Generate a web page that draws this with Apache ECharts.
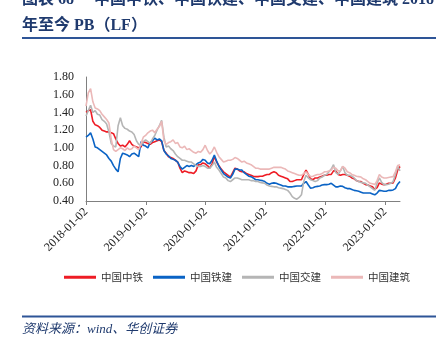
<!DOCTYPE html>
<html><head><meta charset="utf-8">
<script src="https://cdn.jsdelivr.net/npm/echarts@6/dist/echarts.min.js"></script>
<style>html,body{margin:0;padding:0;background:#fff}#c{width:444px;height:351px}</style>
</head><body><div id="c"></div>
<script>
// sampling: one point every 14 calendar days starting 2018-01-02
const startDate = '2018-01-02';
const stepDays = 14;
const tickDates = ['2018-01-02','2019-01-02','2020-01-02','2021-01-02','2022-01-02','2023-01-02'];
const yTicks = [0.40,0.60,0.80,1.00,1.20,1.40,1.60,1.80];
const seriesNames = ['中国中铁','中国铁建','中国交建','中国建筑'];

const crec = [1.40,1.42,1.43,1.30,1.26,1.25,1.23,1.20,1.19,1.18,1.18,1.17,1.16,1.10,1.05,1.02,1.03,1.01,1.04,1.08,1.04,1.02,1.01,1.00,1.01,1.07,1.06,
1.05,1.04,1.06,1.07,1.08,1.09,1.07,0.97,0.94,0.90,0.89,0.88,0.86,0.84,0.77,0.72,0.74,0.73,0.72,0.72,0.71,0.74,0.81,
0.81,0.83,0.82,0.80,0.77,0.82,0.90,0.84,0.80,0.76,0.73,0.71,0.69,0.67,0.72,0.77,0.76,0.74,0.73,0.73,0.71,0.70,0.69,0.68,0.675,0.675,0.68,0.68,0.69,0.70,0.70,0.72,0.73,0.72,0.69,0.68,0.67,0.66,0.65,0.62,0.62,0.63,0.64,0.64,0.64,
0.70,0.75,0.70,0.65,0.64,0.66,0.66,0.67,0.68,0.69,0.69,0.70,0.70,0.74,0.74,0.70,0.69,0.70,0.70,0.69,0.68,0.66,0.65,0.63,0.62,0.62,0.60,0.585,0.58,0.57,0.56,0.53,0.55,0.605,0.59,0.585,0.59,0.60,0.60,0.605,0.66,0.75,0.79];

const crcc = [1.12,1.14,1.17,1.10,1.01,1.00,0.98,0.96,0.94,0.92,0.88,0.85,0.80,0.76,0.73,0.88,0.94,0.93,0.92,0.90,0.93,0.94,0.92,0.90,1.07,1.03,1.02,
1.00,1.06,1.08,1.11,1.09,1.10,1.08,0.97,0.93,0.91,0.88,0.87,0.86,0.84,0.79,0.76,0.78,0.80,0.79,0.80,0.79,0.81,0.83,
0.84,0.87,0.86,0.83,0.82,0.86,0.92,0.85,0.79,0.75,0.71,0.69,0.67,0.66,0.70,0.76,0.76,0.75,0.75,0.72,0.70,0.68,0.675,0.66,0.64,0.64,0.635,0.63,0.62,0.60,0.59,0.60,0.605,0.60,0.59,0.58,0.57,0.57,0.56,0.56,0.56,0.565,0.57,0.57,0.57,
0.60,0.62,0.58,0.545,0.55,0.56,0.565,0.57,0.58,0.585,0.585,0.59,0.60,0.58,0.56,0.56,0.57,0.565,0.55,0.54,0.54,0.53,0.52,0.515,0.51,0.50,0.49,0.49,0.49,0.49,0.48,0.47,0.49,0.52,0.515,0.51,0.51,0.52,0.52,0.525,0.54,0.59,0.62];

const cccc = [1.36,1.42,1.48,1.40,1.42,1.38,1.37,1.32,1.30,1.27,1.18,1.05,1.02,1.01,1.25,1.34,1.25,1.22,1.21,1.19,1.18,1.15,1.08,1.04,1.03,1.07,1.09,
1.07,1.05,1.10,1.14,1.20,1.25,1.31,1.12,1.01,1.02,0.99,0.97,0.93,0.90,0.88,0.86,0.86,0.85,0.84,0.84,0.82,0.80,0.79,
0.79,0.80,0.79,0.77,0.77,0.80,0.84,0.78,0.75,0.71,0.67,0.66,0.63,0.62,0.64,0.66,0.66,0.65,0.64,0.64,0.64,0.64,0.63,0.63,0.62,0.62,0.61,0.605,0.60,0.58,0.57,0.565,0.56,0.56,0.55,0.545,0.54,0.53,0.52,0.49,0.45,0.43,0.42,0.44,0.47,
0.62,0.69,0.66,0.64,0.63,0.62,0.63,0.66,0.67,0.69,0.70,0.73,0.76,0.81,0.72,0.70,0.74,0.79,0.72,0.69,0.69,0.68,0.66,0.63,0.62,0.61,0.605,0.60,0.58,0.56,0.54,0.52,0.60,0.66,0.61,0.585,0.585,0.59,0.60,0.62,0.70,0.79,0.74];

const cscec = [1.47,1.62,1.67,1.52,1.45,1.44,1.42,1.38,1.35,1.32,1.28,1.10,0.98,0.96,0.98,1.00,0.99,0.97,1.00,0.98,0.99,1.02,1.00,0.98,1.05,1.12,1.14,
1.17,1.19,1.20,1.17,1.21,1.24,1.30,1.08,1.04,1.06,1.07,1.09,1.05,1.06,1.01,1.00,1.02,0.98,0.99,0.97,0.95,0.94,0.96,
0.95,0.98,1.03,0.97,0.93,0.96,1.01,0.95,0.90,0.87,0.84,0.85,0.86,0.86,0.87,0.89,0.88,0.86,0.84,0.85,0.83,0.82,0.81,0.79,0.77,0.77,0.76,0.76,0.76,0.76,0.76,0.77,0.78,0.78,0.78,0.78,0.77,0.76,0.74,0.73,0.72,0.71,0.70,0.69,0.69,
0.71,0.73,0.70,0.675,0.68,0.69,0.70,0.70,0.71,0.73,0.73,0.74,0.75,0.78,0.77,0.74,0.74,0.79,0.77,0.73,0.72,0.70,0.69,0.68,0.675,0.67,0.65,0.64,0.62,0.60,0.595,0.585,0.63,0.70,0.67,0.66,0.66,0.665,0.67,0.675,0.73,0.80,0.81];

const seriesValues = [crec, crcc, cccc, cscec];
const colors = ['#EE1C25','#0A63C5','#B5B5B5','#EBB8B8'];

const DAY = 86400000;
const t0 = new Date(startDate + 'T00:00:00Z').getTime();
function dayOf(d){ return Math.round((new Date(d + 'T00:00:00Z').getTime() - t0) / DAY); }
function pairs(vals){ return vals.map((v,i)=>[i*stepDays, v]); }
const dEnd = (crec.length-1)*stepDays;
const tickDays = tickDates.map(dayOf);

const chart = echarts.init(document.getElementById('c'), null, {renderer:'canvas'});
const serif = '"Liberation Serif","Noto Sans CJK SC",serif';
chart.setOption({
  animation:false,
  backgroundColor:'#fff',
  grid:{left:86, top:77, right:44, bottom:150, containLabel:false},
  xAxis:{
    type:'value', min:0, max:dEnd,
    axisLine:{show:true, onZero:false, lineStyle:{color:'#808080', width:1}},
    axisTick:{show:true, length:4, lineStyle:{color:'#808080'}, customValues:tickDays},
    axisLabel:{rotate:45, margin:9, fontFamily:serif, fontSize:12, color:'#222',
      customValues:tickDays,
      formatter:(v)=>{ const k = tickDays.indexOf(Math.round(v)); return k>=0 ? tickDates[k] : ''; }},
    splitLine:{show:false}
  },
  yAxis:{
    type:'value', min:yTicks[0], max:yTicks[yTicks.length-1], interval:0.2,
    axisLine:{show:true, lineStyle:{color:'#808080', width:1}},
    axisTick:{show:false},
    axisLabel:{fontFamily:serif, fontSize:12, color:'#222', margin:12, formatter:(v)=>v.toFixed(2)},
    splitLine:{show:false}
  },
  legend:{
    left:59, top:267, icon:'rect', itemWidth:32, itemHeight:3, itemGap:10,
    textStyle:{fontFamily:'"Noto Sans CJK SC",sans-serif', fontSize:10.5, color:'#333'},
    data:seriesNames
  },
  series: seriesNames.map((n,k)=>({
    name:n, type:'line', data:pairs(seriesValues[k]), showSymbol:false, symbol:'none',
    lineStyle:{width:1.6, color:colors[k]}, itemStyle:{color:colors[k]}, z:2+k
  })),
  graphic:[
    {type:'text', left:22, top:-8, style:{text:'图表 68 　中国中铁、中国铁建、中国交建、中国建筑 2018', font:'bold 16px '+serif, fill:'#1F3A6E'}},
    {type:'text', left:22, top:18, style:{text:'年至今 PB（LF）', font:'bold 16px '+serif, fill:'#1F3A6E'}},
    {type:'rect', shape:{x:22, y:37, width:414, height:2}, style:{fill:'#2E5597'}},
    {type:'rect', shape:{x:22, y:315.5, width:414, height:2}, style:{fill:'#2E5597'}},
    {type:'text', left:22, top:323, style:{text:'资料来源：wind、华创证券', font:'italic 13px '+serif, fill:'#1F3A6E'}}
  ]
});
</script></body></html>
